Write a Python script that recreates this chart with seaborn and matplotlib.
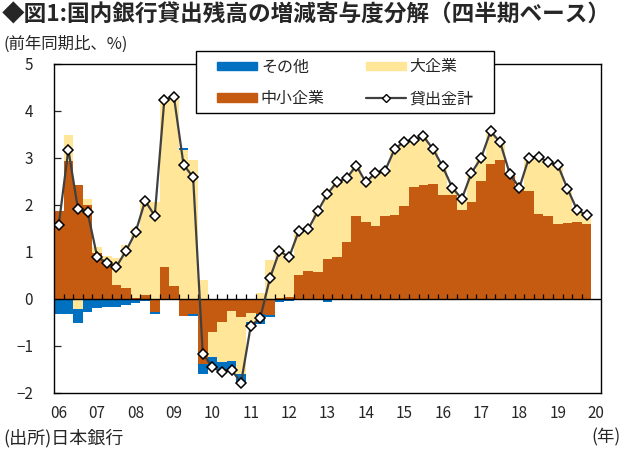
import numpy as np
import pandas as pd
import matplotlib
matplotlib.use("Agg")
import matplotlib.pyplot as plt
import seaborn as sns
from matplotlib.patches import Patch, Rectangle
from matplotlib.lines import Line2D

# 四半期 2006Q1 - 2019Q4 (前年同期比、%)
sme = [1.88, 2.93, 2.43, 2.00, 0.98, 0.80, 0.30, 0.24, 0.02, 0.08,
       -0.28, 0.68, 0.28, -0.36, -0.31, -1.39, -0.70, -0.48, -0.25, -0.39,
       -0.30, -0.33, -0.34, 0.03, 0.05, 0.51, 0.60, 0.58, 0.85, 0.90,
       1.22, 1.76, 1.64, 1.56, 1.76, 1.79, 1.97, 2.39, 2.43, 2.45,
       2.22, 2.22, 1.90, 2.07, 2.52, 2.88, 2.96, 2.64, 2.36, 2.30,
       1.81, 1.76, 1.60, 1.61, 1.63, 1.60]
large = [0.00, 0.55, -0.22, 0.12, 0.12, 0.12, 0.58, 0.90, 1.48, 2.00,
         2.07, 3.60, 4.02, 3.18, 2.95, 0.40, -0.53, -0.86, -1.07, -1.21,
         -0.20, 0.12, 0.83, 1.05, 0.88, 0.95, 0.92, 1.31, 1.46, 1.61,
         1.36, 1.09, 0.85, 1.14, 1.00, 1.43, 1.41, 1.00, 1.04, 0.75,
         0.61, 0.16, 0.24, 0.64, 0.50, 0.72, 0.40, 0.03, 0.02, 0.72,
         1.23, 1.16, 1.26, 0.75, 0.28, 0.19]
other = [-0.31, -0.31, -0.30, -0.28, -0.20, -0.16, -0.16, -0.13, -0.08, -0.05,
         -0.04, -0.02, 0.00, 0.03, -0.05, -0.20, -0.22, -0.22, -0.19, -0.17,
         -0.08, -0.20, -0.05, -0.06, -0.04, -0.02, -0.03, -0.02, -0.07, -0.02,
         -0.01, -0.01, -0.01, -0.01, -0.03, -0.03, -0.03, -0.01, -0.01, -0.01,
         -0.01, -0.01, -0.01, -0.03, -0.02, -0.03, -0.03, -0.01, -0.01, -0.01,
         -0.01, -0.01, -0.01, -0.01, -0.01, -0.01]
total = [1.58, 3.18, 1.91, 1.85, 0.90, 0.77, 0.69, 1.02, 1.42, 2.09,
         1.77, 4.24, 4.30, 2.86, 2.59, -1.16, -1.45, -1.56, -1.51, -1.78,
         -0.58, -0.40, 0.44, 1.02, 0.89, 1.44, 1.49, 1.87, 2.24, 2.49,
         2.57, 2.84, 2.48, 2.69, 2.73, 3.19, 3.35, 3.38, 3.46, 3.19,
         2.82, 2.37, 2.13, 2.68, 3.00, 3.57, 3.33, 2.66, 2.37, 3.01,
         3.03, 2.91, 2.85, 2.35, 1.90, 1.78]
year_labels = ["06", "07", "08", "09", "10", "11", "12", "13",
               "14", "15", "16", "17", "18", "19", "20"]

c_sme = "#C55A11"
c_large = "#FFE699"
c_other = "#0070C0"
c_line = "#404040"

sns.set_theme(style="white")
plt.rcParams["font.family"] = ["Noto Sans CJK JP", "DejaVu Sans"]
plt.rcParams["axes.unicode_minus"] = True

df = pd.DataFrame({"q": np.arange(len(total)), "sme": sme, "large": large,
                   "other": other, "total": total})

fig = plt.figure(figsize=(6.24, 4.5), dpi=100)
ax = fig.add_axes([0.0865, 0.1267, 0.8766, 0.7311])

# stacked bars: positive and negative parts stacked separately
pos = np.zeros(len(df))
neg = np.zeros(len(df))
for col, color in [("sme", c_sme), ("large", c_large), ("other", c_other)]:
    v = df[col].to_numpy()
    bottom = np.where(v >= 0, pos, neg)
    sns.barplot(data=df, x="q", y=col, color=color, saturation=1, width=1.0,
                errorbar=None, linewidth=0, bottom=bottom, ax=ax, zorder=2)
    pos = pos + np.where(v >= 0, v, 0)
    neg = neg + np.where(v < 0, v, 0)

sns.lineplot(x=df["q"], y=df["total"], color=c_line, lw=1.6, marker="D",
             markersize=5.5, markerfacecolor="white", markeredgecolor="black",
             markeredgewidth=1.1, ax=ax, zorder=4)

ax.axhline(0, color="black", lw=1, zorder=3)
ax.vlines(df["q"].to_numpy()[1:] - 0.5, 0, 0.1, color="black", lw=0.9, zorder=3)

ax.set_xlim(-0.5, len(total) + 0.5)
ax.set_ylim(-2, 5)
ax.set_yticks(range(-2, 6))
ax.set_yticklabels([str(v).replace("-", "\u2212") for v in range(-2, 6)], fontsize=11)
ax.set_xticks(range(0, 4 * len(year_labels), 4))
ax.set_xticklabels(year_labels, fontsize=11)
ax.tick_params(axis="y", direction="in", length=5, width=0.9, pad=15, left=True)
ax.tick_params(axis="x", length=0, pad=9)
ax.set_xlabel("")
ax.set_ylabel("")
for s in ax.spines.values():
    s.set_color("black")
    s.set_linewidth(1)

# legend box (white, covers the top spine) and legend entries on top of it
fig.add_artist(Rectangle((196 / 624, 1 - 113 / 450), 298 / 624, 62 / 450,
                         transform=fig.transFigure, facecolor="white",
                         edgecolor="black", lw=1, zorder=4))
handles = [Patch(color=c_other, label="その他"),
           Patch(color=c_sme, label="中小企業"),
           Patch(color=c_large, label="大企業"),
           Line2D([], [], color=c_line, lw=1.6, marker="D", markersize=4,
                  markerfacecolor="white", markeredgecolor="black", label="貸出金計")]
leg = fig.legend(handles=handles, ncol=2, loc="upper left",
                 bbox_to_anchor=(217 / 624, 1 - 58.5 / 450),
                 borderaxespad=0, borderpad=0, handlelength=2.5, handleheight=0.4,
                 columnspacing=2.55, labelspacing=0.92, handletextpad=0.25,
                 frameon=False, fontsize=11.5)
leg.set_zorder(6)

fig.text(0.003, 1 - 15 / 450, "◆図1:国内銀行貸出残高の増減寄与度分解（四半期ベース）",
         fontsize=16.3, fontweight="bold", va="center", ha="left")
fig.text(0.005, 1 - 44 / 450, "(前年同期比、%)", fontsize=11.8, va="center", ha="left")
fig.text(0.005, 1 - 438 / 450, "(出所)日本銀行", fontsize=13, va="center", ha="left")
fig.text(0.995, 1 - 437 / 450, "(年)", fontsize=12.5, va="center", ha="right")

fig.savefig("out.png", dpi=100)
